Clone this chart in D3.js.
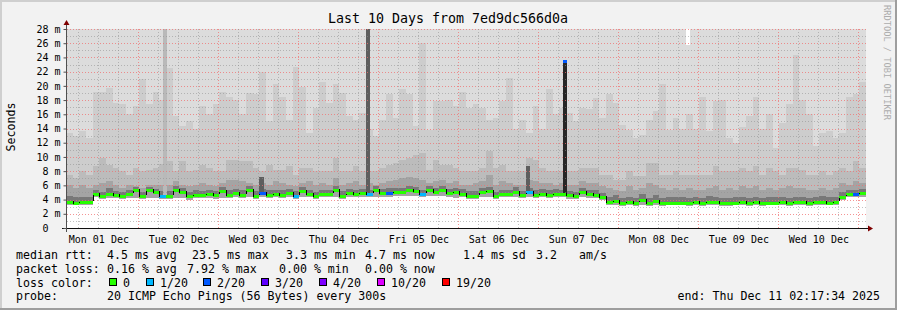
<!DOCTYPE html>
<html>
<head>
<meta charset="utf-8">
<script src="https://cdn.jsdelivr.net/npm/d3@7"></script>
<style>
body { margin: 0; background: #f2f2f2; }
svg { display: block; }
text { font-family: "DejaVu Sans Mono", monospace; fill: #000; }
</style>
</head>
<body>
<svg id="chart" width="897" height="310"></svg>
<script>
// ---- data (2 hour columns, ms) ----
const titleText = "Last 10 Days from 7ed9dc566d0a";
const startTime = new Date(Date.UTC(2025, 11, 1, 2, 17, 34));
const endTime = new Date(Date.UTC(2025, 11, 11, 2, 17, 34));
const binHours = 2;

const medianMs = [
  3.7,3.5,3.6,3.6,4.75,4.5,4.8,4.65,4.5,4.75,5.3,4.55,5.3,5.0,4.55,4.55,5.35,5.0,4.45,4.7,4.7,4.75,4.6,5.25,
  4.6,4.9,4.7,5.3,4.55,4.9,4.7,4.8,4.7,4.9,4.55,5.15,4.8,4.55,4.8,4.8,5.3,4.55,4.9,4.8,4.9,4.8,5.4,4.9,
  4.9,5.0,5.0,5.3,5.2,4.85,5.3,5.0,5.3,4.9,5.0,4.85,4.55,4.55,5.0,5.2,4.5,4.8,4.8,5.1,4.6,5.0,4.7,4.85,
  4.7,4.85,4.8,4.6,4.55,5.0,4.75,4.7,4.3,3.6,3.8,3.45,3.6,3.45,4.0,3.45,3.8,3.45,3.5,3.55,3.55,3.45,3.65,3.45,
  3.7,3.6,3.45,3.45,3.5,3.65,3.45,3.6,3.45,3.55,3.5,3.6,3.45,3.6,3.6,3.45,3.6,3.7,3.5,3.65,4.3,4.75,4.8,4.9
];
// loss per column: index into lossLabels
const lossIdx = [
  0,0,0,0,0,0,0,0,0,0,0,0,0,0,1,0,0,0,0,0,0,0,0,0,
  0,0,0,0,0,2,0,0,0,0,1,0,0,0,0,0,0,0,0,0,0,1,0,0,
  2,0,0,0,0,1,0,0,0,0,0,0,0,0,0,0,0,0,0,0,0,1,0,0,
  0,0,0,0,0,0,0,0,0,0,0,0,0,0,0,0,0,0,0,0,0,0,0,0,
  0,0,0,0,0,0,0,0,0,0,0,0,0,0,0,0,0,0,0,0,0,0,2,0
];
const smokeMin = [
  3.2,3.2,3.2,3.2,4.3,4.1,4.2,4.2,4.1,4.2,4.2,4.1,4.2,4.2,4.1,4.1,4.2,4.2,4.0,4.2,4.2,4.2,4.1,4.2,
  4.2,4.3,4.2,4.3,4.1,4.3,4.2,4.3,4.2,4.3,4.1,4.4,4.3,4.1,4.3,4.3,4.3,4.1,4.3,4.3,4.3,4.3,4.4,4.4,
  4.4,4.5,4.5,4.5,4.5,4.3,4.5,4.5,4.5,4.4,4.2,4.3,4.1,4.1,4.3,4.4,4.1,4.3,4.3,4.4,4.2,4.4,4.2,4.3,
  4.2,4.3,4.3,4.1,4.1,4.4,4.2,4.2,3.9,3.2,3.3,3.1,3.2,3.1,3.3,3.1,3.3,3.1,3.2,3.2,3.2,3.1,3.2,3.1,
  3.3,3.2,3.1,3.1,3.2,3.2,3.1,3.2,3.1,3.2,3.2,3.2,3.1,3.2,3.2,3.1,3.2,3.3,3.2,3.2,3.9,4.3,4.3,4.4
];
const smoke2 = [
  13.4,12.9,13.6,12.7,19.2,19.2,19.7,17.6,17.4,16,17.1,21,17.4,19.2,18,22.5,15.7,14.3,15,14,17.1,16,17.4,19.2,
  18.5,18,16,19,18.8,22,15,20.2,18.5,15.2,22.7,19.9,13.4,16.9,20.6,17.6,20.2,19,15.7,15.2,16.2,14,12.9,15.2,
  18.8,15.5,19.5,18.8,14.3,26,13.8,17.8,17.8,18,17.1,19.2,16.9,17.5,16.9,15.2,15.5,17.8,21.1,14,15.2,13.4,17.1,14,
  19.5,16,16.9,16.2,15,16.9,16.7,18.3,15.5,18.8,17.6,14.5,13.8,12.7,13.1,15.2,16.4,20.2,13.8,15.5,14,16,14,18.5,
  13.7,17.8,18,12.7,12,14.2,15.7,18.4,14,16,11.3,14.8,17.4,24.4,18,16,11.5,13.4,13.7,12.7,13.4,18.5,18.8,20.6
];
const smoke3 = [
  7.5,7,8,7.5,8.7,9.8,8.9,8.4,8,7.5,8.4,8,8.2,8.4,9,9.4,8,9.4,8,8.2,8.9,8.4,8,8,
  9.6,9.6,9.4,9.4,8.4,8,8.9,8.2,8.2,8.7,7.5,8.4,8.4,8,8,8,9.8,8,8,8.7,8,8,8,8.4,
  8.9,9.2,9.6,9.8,10.3,10.5,8.2,9.5,8.9,8.9,8.4,8,8,8,8.4,10.9,8.4,8.9,8,8,8,9.8,9.6,8.4,
  8,8,8,8,8,8.4,8.4,8.4,7.5,7.5,6.8,6.8,8,7.3,7.3,9.1,9.1,7.5,7.5,8,7.5,7.5,7.5,7.5,
  7.5,8.7,8,8,8,8.4,8,8.7,7.5,8.4,8,7.5,8.4,8.4,8.2,7.5,7.5,8,7.5,8,8.4,8,9.4,8.4
];
const smoke4 = [
  6.1,5.6,6.1,5.6,6.1,6.3,6.6,6.1,5.6,6.1,5.9,5.6,6.1,6.1,6.1,6.1,6.6,6.1,5.9,6.1,6.3,6.1,5.9,6.3,
  6.8,6.8,6.6,6.3,6.1,6.3,6.1,6.6,6.3,6.1,5.9,6.3,6.6,6.1,6.3,6.1,7.0,6.1,6.3,6.6,6.1,6.3,6.1,6.3,
  6.6,6.8,7.0,7.2,7.0,6.8,6.3,6.6,6.8,6.3,6.6,6.1,6.1,6.3,6.6,7.5,6.1,6.6,6.3,6.1,6.1,6.8,6.6,6.3,
  6.3,6.1,6.3,6.1,6.1,6.6,6.3,6.3,5.9,5.6,5.4,5.2,5.9,5.4,5.6,6.3,6.1,5.6,5.4,5.6,5.4,5.6,5.4,5.4,
  5.6,5.9,5.4,5.6,5.4,5.9,5.6,5.9,5.4,5.6,5.4,5.6,5.9,5.6,5.6,5.4,5.4,5.6,5.4,5.6,6.3,6.1,6.6,6.3
];
const smokeDark = [
  4.5,4.3,4.4,4.3,5.3,5.1,5.6,5.2,5.1,5.3,5.8,5.1,5.8,5.5,5.2,5.2,5.9,5.6,5.1,5.3,5.2,5.3,5.2,5.8,
  5.3,5.5,5.3,5.9,5.2,5.5,5.3,5.4,5.3,5.5,5.2,5.7,5.4,5.1,5.4,5.4,5.9,5.2,5.5,5.4,5.5,5.4,5.9,5.5,
  5.6,5.6,5.6,5.9,5.8,5.4,5.9,5.6,5.9,5.5,5.6,5.5,5.2,5.2,5.6,5.8,5.1,5.4,5.4,5.7,5.2,5.6,5.3,5.5,
  5.3,5.5,5.4,5.2,5.1,5.6,5.3,5.3,4.9,4.3,4.6,4.2,4.4,4.2,4.8,4.2,4.6,4.2,4.3,4.3,4.3,4.2,4.4,4.2,
  4.5,4.4,4.2,4.2,4.3,4.4,4.2,4.4,4.2,4.3,4.3,4.4,4.2,4.4,4.4,4.2,4.4,4.5,4.3,4.4,5.0,5.3,5.4,5.5
];

// single-hour outliers (hour counted from startTime)
const spikeHour = [29, 58, 90, 138, 149, 186];
const spikeLo   = [4.5, 4.8, 4.8, 5.0, 4.8, 25.8];
const spikeHi   = [28, 7.2, 28, 8.7, 23.5, 28];
const spikeKind = ["smoke", "dark", "dark", "dark", "median", "gap"];
const spikeLoss = [0, 0, 0, 0, 2, 0];

const yTicks = [0, 2, 4, 6, 8, 10, 12, 14, 16, 18, 20, 22, 24, 26, 28];
const lossLabels = ["0", "1/20", "2/20", "3/20", "4/20", "10/20", "19/20"];
const lossColors = ["#26ff00", "#00b8ff", "#0059ff", "#5e00ff", "#7e00ff", "#dd00ff", "#ff0000"];
const rttStats = ["4.5 ms avg", "23.5 ms max", "3.3 ms min", "4.7 ms now", "1.4 ms sd", "3.2", "am/s"];
const lossStats = ["0.16 % avg", "7.92 % max", "0.00 % min", "0.00 % now"];
const probeText = "20 ICMP Echo Pings (56 Bytes) every 300s";
const endText = "end: Thu Dec 11 02:17:34 2025";

// ---- drawing ----
const W = 897, H = 310;
const svg = d3.select("#chart");

const x = d3.scaleUtc().domain([startTime, endTime]).range([66, 866]);
const y = d3.scaleLinear().domain([0, 28]).range([228, 29]);
const binT = i => new Date(startTime.getTime() + i * binHours * 3600e3);
const hourT = h => new Date(startTime.getTime() + h * 3600e3);
const px = v => Math.round(v);

// frame
svg.append("rect").attr("width", W).attr("height", H).attr("fill", "#f2f2f2");
svg.append("rect").attr("x", 0).attr("y", 0).attr("width", W).attr("height", 2).attr("fill", "#cfcfcf");
svg.append("rect").attr("x", 0).attr("y", 0).attr("width", 2).attr("height", H).attr("fill", "#cfcfcf");
svg.append("rect").attr("x", 0).attr("y", H - 2).attr("width", W).attr("height", 2).attr("fill", "#9e9e9e");
svg.append("rect").attr("x", W - 2).attr("y", 0).attr("width", 2).attr("height", H).attr("fill", "#9e9e9e");

// canvas
svg.append("rect").attr("x", 66).attr("y", px(y(28))).attr("width", 800)
  .attr("height", px(y(0)) - px(y(28))).attr("fill", "#ffffff");

const smoke = svg.append("g").attr("shape-rendering", "crispEdges");

function band(cls, lo, hi, fill) {
  smoke.selectAll("rect." + cls)
    .data(medianMs)
    .join("rect")
    .attr("class", cls)
    .attr("x", (d, i) => px(x(binT(i))))
    .attr("width", (d, i) => px(x(binT(i + 1))) - px(x(binT(i))))
    .attr("y", (d, i) => px(y(hi(i))))
    .attr("height", (d, i) => Math.max(0, px(y(lo(i))) - px(y(hi(i)))))
    .attr("fill", fill);
}
band("s1", i => smokeMin[i], i => 28, "#dcdcdc");
band("s2", i => smokeMin[i], i => smoke2[i], "#cdcdcd");
band("s3", i => smokeMin[i], i => smoke3[i], "#bcbcbc");
band("s4", i => smokeMin[i], i => smoke4[i], "#a4a4a4");
band("s5", i => medianMs[i], i => smokeDark[i], "#787878");

const spikeFill = { smoke: "#b9b9b9", dark: "#5e5e5e", median: "#262626", gap: "#ffffff" };
smoke.selectAll("rect.spike")
  .data(spikeHour)
  .join("rect")
  .attr("class", "spike")
  .attr("x", h => px(x(hourT(h))))
  .attr("width", h => px(x(hourT(h + 1))) - px(x(hourT(h))) + 1)
  .attr("y", (h, i) => px(y(spikeHi[i])))
  .attr("height", (h, i) => px(y(spikeLo[i])) - px(y(spikeHi[i])))
  .attr("fill", (h, i) => spikeFill[spikeKind[i]]);

// grid (dotted, drawn over the smoke like rrdtool)
const grid = svg.append("g").attr("class", "grid").attr("shape-rendering", "crispEdges");
const minorCol = "#8f8f8f", majorCol = "#f07070";
const hTicks = y.ticks(28).filter(v => v > 0);
grid.selectAll("line.hgrid")
  .data(hTicks)
  .join("line")
  .attr("class", "hgrid")
  .attr("x1", 67).attr("x2", 866)
  .attr("y1", v => px(y(v)) + 0.5).attr("y2", v => px(y(v)) + 0.5)
  .attr("stroke-width", 1)
  .attr("stroke-dasharray", "1,2")
  .attr("stroke-opacity", v => v % 2 === 0 ? 0.75 : 0.55)
  .attr("stroke", v => v % 2 === 0 ? majorCol : minorCol);
const sixHours = x.ticks(d3.utcHour.every(6));
grid.selectAll("line.vgrid")
  .data(sixHours)
  .join("line")
  .attr("class", "vgrid")
  .attr("x1", d => px(x(d)) + 0.5).attr("x2", d => px(x(d)) + 0.5)
  .attr("y1", px(y(28))).attr("y2", px(y(0)))
  .attr("stroke-width", 1)
  .attr("stroke-dasharray", "1,2")
  .attr("stroke-opacity", d => d.getUTCHours() === 0 ? 0.75 : 0.55)
  .attr("stroke", d => d.getUTCHours() === 0 ? majorCol : minorCol);

// median line with loss colour
const med = svg.append("g").attr("shape-rendering", "crispEdges");
med.selectAll("rect.m")
  .data(medianMs)
  .join("rect")
  .attr("class", "m")
  .attr("x", (d, i) => px(x(binT(i))))
  .attr("width", (d, i) => px(x(binT(i + 1))) - px(x(binT(i))))
  .attr("y", d => px(y(d)) - 1)
  .attr("height", 3)
  .attr("fill", (d, i) => lossColors[lossIdx[i]]);
med.selectAll("line.c")
  .data(medianMs.slice(1))
  .join("line")
  .attr("class", "c")
  .attr("x1", (d, i) => px(x(binT(i + 1))) + 0.5)
  .attr("x2", (d, i) => px(x(binT(i + 1))) + 0.5)
  .attr("y1", (d, i) => px(y(medianMs[i])) - 1)
  .attr("y2", d => px(y(d)) + 1)
  .attr("stroke", (d, i) => px(y(d)) === px(y(medianMs[i])) ? "none" : "#000");
// loss cap on the median outlier
const capIdx = spikeKind.map((k, i) => i).filter(i => spikeKind[i] === "median");
med.selectAll("rect.cap")
  .data(capIdx)
  .join("rect")
  .attr("class", "cap")
  .attr("x", i => px(x(hourT(spikeHour[i]))))
  .attr("width", i => px(x(hourT(spikeHour[i] + 1))) - px(x(hourT(spikeHour[i]))) + 1)
  .attr("y", i => px(y(spikeHi[i])) - 1)
  .attr("height", 3)
  .attr("fill", i => lossColors[spikeLoss[i]]);

// axes
svg.append("line").attr("x1", 62).attr("x2", 868).attr("y1", 228.5).attr("y2", 228.5).attr("stroke", "#101010");
svg.append("line").attr("x1", 66.5).attr("x2", 66.5).attr("y1", 232).attr("y2", 24).attr("stroke", "#505050");
svg.append("path").attr("d", "M868,225.5L873,228.5L868,231.5Z").attr("fill", "#7f0000");
svg.append("path").attr("d", "M63.5,25L66.5,20L69.5,25Z").attr("fill", "#7f0000");

const yAxis = svg.append("g")
  .attr("transform", "translate(66.5,0)")
  .call(d3.axisLeft(y).tickValues(yTicks).tickSize(3).tickPadding(3)
    .tickFormat(v => v === 0 ? "0" : v + " m"));
yAxis.select(".domain").remove();
yAxis.selectAll(".tick line").attr("stroke", "#505050");
yAxis.selectAll(".tick text")
  .style("font-family", "'DejaVu Sans Mono', monospace")
  .style("font-size", "10px").attr("fill", "#000")
  .attr("dx", v => v === 0 ? -12 : 0);

const noons = d3.utcDay.range(d3.utcDay.floor(startTime), endTime)
  .map(d => d3.utcHour.offset(d, 12))
  .filter(d => d > startTime && d < endTime);
const xAxis = svg.append("g")
  .attr("transform", "translate(0,228.5)")
  .call(d3.axisBottom(x).tickValues(noons).tickSize(0).tickPadding(7)
    .tickFormat(d3.utcFormat("%a %d %b")));
xAxis.select(".domain").remove();
xAxis.selectAll(".tick text")
  .style("font-family", "'DejaVu Sans Mono', monospace")
  .style("font-size", "10px").attr("fill", "#000");

// titles
svg.append("text").attr("x", 448).attr("y", 23).attr("text-anchor", "middle")
  .style("font-size", "13.3px").text(titleText);
svg.append("text").attr("transform", "translate(14.5,127) rotate(-90)")
  .attr("text-anchor", "middle").style("font-size", "11.6px").text("Seconds");
svg.append("text").attr("transform", "translate(884,5) rotate(90)")
  .style("font-size", "8.7px").style("fill", "#acacac").text("RRDTOOL / TOBI OETIKER");

// legend
const leg = svg.append("g").style("font-size", "11.6px");
const rowY = [258.5, 272.5, 286.5, 300];
leg.append("text").attr("x", 16).attr("y", rowY[0]).text("median rtt:");
leg.append("text").attr("x", 16).attr("y", rowY[1]).text("packet loss:");
leg.append("text").attr("x", 16).attr("y", rowY[2]).text("loss color:");
leg.append("text").attr("x", 16).attr("y", rowY[3]).text("probe:");

const rttX = [107, 192, 286, 365, 463, 536, 579];
leg.selectAll("text.rtt").data(rttStats).join("text")
  .attr("class", "rtt")
  .attr("x", (d, i) => rttX[i]).attr("y", rowY[0]).text(d => d);
const lossX = [107, 187, 279, 365];
leg.selectAll("text.ls").data(lossStats).join("text")
  .attr("class", "ls")
  .attr("x", (d, i) => lossX[i]).attr("y", rowY[1]).text(d => d);

const boxX = [109, 146, 203, 261, 319, 377, 442];
leg.selectAll("rect.lb").data(lossLabels).join("rect")
  .attr("class", "lb")
  .attr("x", (d, i) => boxX[i] + 0.5).attr("y", 278.5)
  .attr("width", 7).attr("height", 7)
  .attr("fill", (d, i) => lossColors[i]).attr("stroke", "#000");
leg.selectAll("text.lt").data(lossLabels).join("text")
  .attr("class", "lt")
  .attr("x", (d, i) => boxX[i] + 14).attr("y", rowY[2]).text(d => d);

leg.append("text").attr("x", 107).attr("y", rowY[3]).text(probeText);
leg.append("text").attr("x", 880).attr("y", rowY[3]).attr("text-anchor", "end").text(endText);
</script>
</body>
</html>
